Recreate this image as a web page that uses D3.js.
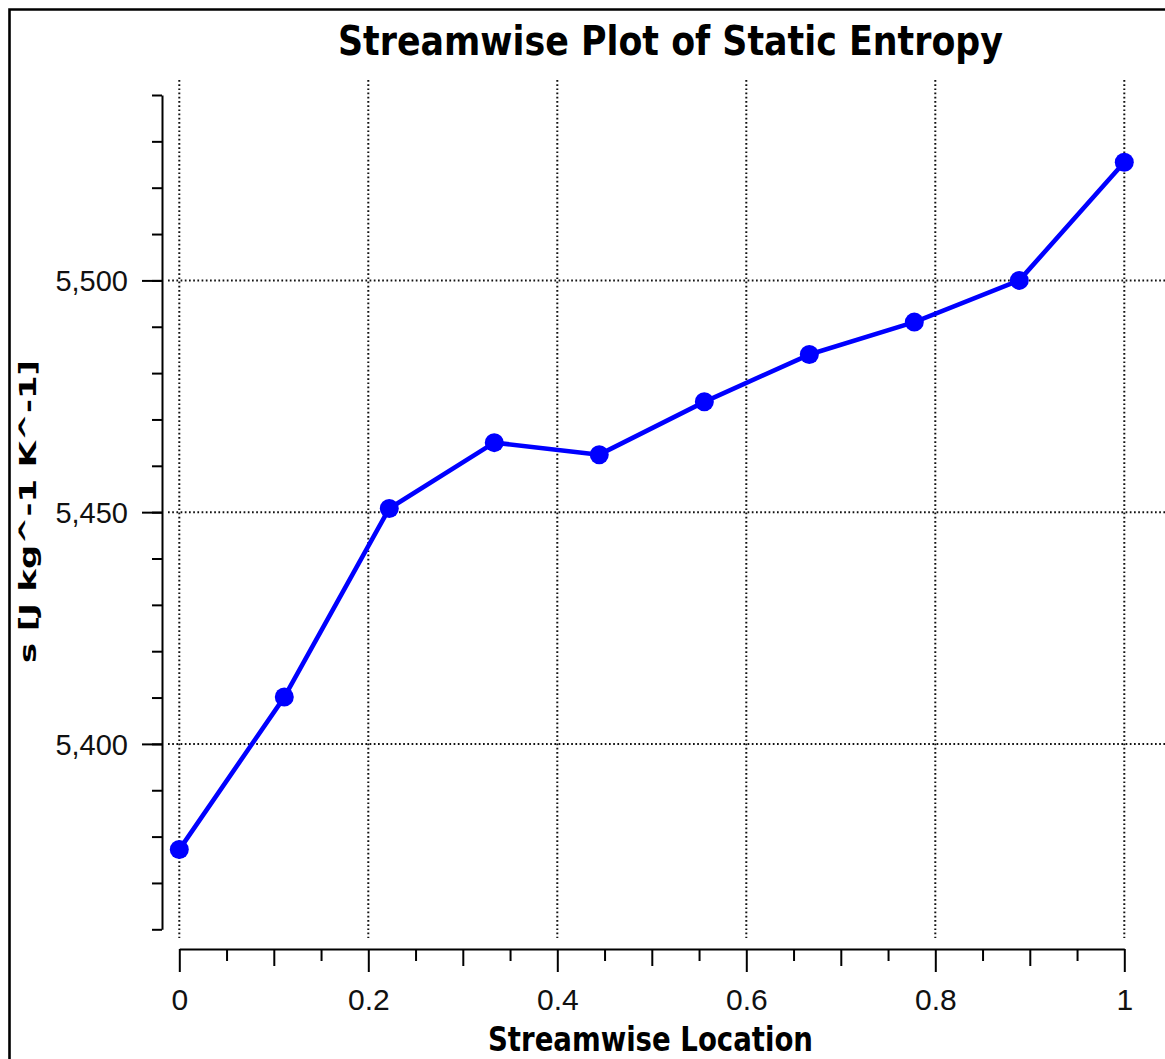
<!DOCTYPE html>
<html>
<head>
<meta charset="utf-8">
<script src="https://cdn.jsdelivr.net/npm/d3@7"></script>
<style>
  html, body { margin: 0; padding: 0; background: #fff; }
  svg { display: block; }
  .tick text { font-family: "Liberation Sans", Arial, sans-serif; fill: #111; }
</style>
</head>
<body>
<script>
// Streamwise distribution of static entropy
const locations = [0, 0.1111, 0.2222, 0.3333, 0.4444, 0.5556, 0.6667, 0.7778, 0.8889, 1.0];
const entropy   = [5377.2, 5410.1, 5450.8, 5465.0, 5462.4, 5473.8, 5484.0, 5491.0, 5500.0, 5525.5];

const yMajorTicks = [5400, 5450, 5500];
const yMinorTicks = d3.range(5360, 5541, 10);
const xMajorTicks = [0, 0.2, 0.4, 0.6, 0.8, 1];
const xMidTicks   = [0.1, 0.3, 0.5, 0.7, 0.9];
const xMinorTicks = [0.05, 0.15, 0.25, 0.35, 0.45, 0.55, 0.65, 0.75, 0.85, 0.95];

const titleText  = "Streamwise Plot of Static Entropy";
const xLabelText = "Streamwise Location";
const yLabelText = "s [J kg^-1 K^-1]";

const W = 1165, H = 1059;
const svg = d3.select("body").append("svg").attr("width", W).attr("height", H);

const x = d3.scaleLinear().domain([0, 1]).range([179.3, 1124.3]);
const y = d3.scaleLinear().domain([5360, 5540]).range([929.3, 95]);

// outer frame (open on the right and bottom)
svg.append("path")
  .attr("d", `M9.5,${H + 2}V9.5H${W + 2}`)
  .attr("fill", "none").attr("stroke", "#000").attr("stroke-width", 2.6);

// dotted grid
const grid = svg.append("g").attr("stroke", "#111").attr("stroke-width", 2)
  .attr("stroke-dasharray", "1.7,2.5");
grid.selectAll("line.v").data(xMajorTicks).join("line").attr("class", "v")
  .attr("x1", d => x(d)).attr("x2", d => x(d))
  .attr("y1", 80).attr("y2", 938);
grid.selectAll("line.h").data(yMajorTicks).join("line").attr("class", "h")
  .attr("y1", d => y(d)).attr("y2", d => y(d))
  .attr("x1", 168).attr("x2", W + 2);

// y axis: minor ticks, then major labelled ticks
const yAxisX = 162;
svg.append("g").attr("transform", `translate(${yAxisX},0)`)
  .call(d3.axisLeft(y).tickValues(yMinorTicks).tickSize(10).tickSizeOuter(0).tickFormat(""))
  .call(g => g.selectAll("line, path").attr("stroke", "#000").attr("stroke-width", 2));
svg.append("g").attr("transform", `translate(${yAxisX},0)`)
  .call(d3.axisLeft(y).tickValues(yMajorTicks).tickSize(20).tickSizeOuter(0)
    .tickPadding(14).tickFormat(d3.format(",")))
  .call(g => g.select(".domain").remove())
  .call(g => g.selectAll("line").attr("stroke", "#000").attr("stroke-width", 2))
  .call(g => g.selectAll("text").attr("font-size", 29).attr("dy", "0.36em"));

// x axis: three tick lengths
const xAxisY = 949;
function xTickLayer(vals, size) {
  return svg.append("g").attr("transform", `translate(0,${xAxisY})`)
    .call(d3.axisBottom(x).tickValues(vals).tickSize(size).tickSizeOuter(0).tickFormat(""))
    .call(g => g.selectAll("line, path").attr("stroke", "#000").attr("stroke-width", 2));
}
xTickLayer(xMinorTicks, 12);
xTickLayer(xMidTicks, 17).call(g => g.select(".domain").remove());
svg.append("g").attr("transform", `translate(0,${xAxisY})`)
  .call(d3.axisBottom(x).tickValues(xMajorTicks).tickSize(23).tickSizeOuter(0)
    .tickPadding(16).tickFormat(d3.format("")))
  .call(g => g.select(".domain").remove())
  .call(g => g.selectAll("line").attr("stroke", "#000").attr("stroke-width", 2))
  .call(g => g.selectAll("text").attr("font-size", 30).attr("dy", "0.72em"));

// series
const defs = svg.append("defs");
defs.append("filter").attr("id", "soft").append("feGaussianBlur").attr("stdDeviation", 0.55);
const series = svg.append("g").attr("filter", "url(#soft)");
const pts = locations.map((v, i) => [v, entropy[i]]);
series.append("path").datum(pts)
  .attr("d", d3.line().x(d => x(d[0])).y(d => y(d[1])))
  .attr("fill", "none").attr("stroke", "#0000ff").attr("stroke-width", 4.6)
  .attr("stroke-linejoin", "round");
series.selectAll("circle").data(pts).join("circle")
  .attr("cx", d => x(d[0])).attr("cy", d => y(d[1])).attr("r", 9.5)
  .attr("fill", "#0000ff");

// titles
const boldFont = '"DejaVu Sans", Verdana, sans-serif';
svg.append("text").text(titleText)
  .attr("x", 338).attr("y", 55)
  .attr("font-family", boldFont).attr("font-weight", "bold").attr("font-size", 41)
  .attr("textLength", 665).attr("lengthAdjust", "spacingAndGlyphs").attr("fill", "#000");
svg.append("text").text(xLabelText)
  .attr("x", 488).attr("y", 1051)
  .attr("font-family", boldFont).attr("font-weight", "bold").attr("font-size", 33)
  .attr("textLength", 325).attr("lengthAdjust", "spacingAndGlyphs").attr("fill", "#000");
svg.append("text").text(yLabelText)
  .attr("transform", "translate(36,663) rotate(-90)")
  .attr("font-family", boldFont).attr("font-weight", "bold").attr("font-size", 23)
  .attr("textLength", 303).attr("lengthAdjust", "spacingAndGlyphs").attr("fill", "#000");
</script>
</body>
</html>
